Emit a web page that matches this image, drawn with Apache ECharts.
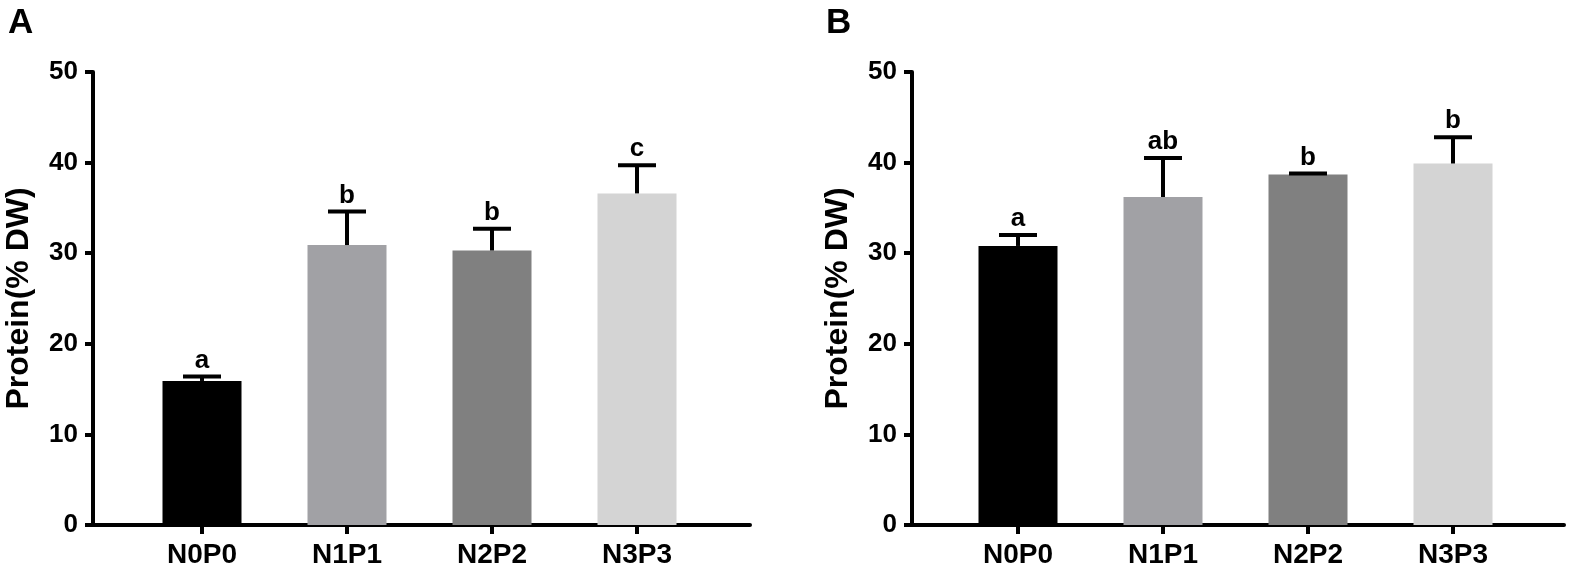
<!DOCTYPE html>
<html>
<head>
<meta charset="utf-8">
<title>Protein (% DW)</title>
<script src="https://cdn.jsdelivr.net/npm/echarts@6.0.0/dist/echarts.min.js"></script>
<style>
  html, body { margin: 0; padding: 0; background: #fff; }
  #main { width: 1569px; height: 573px; }
</style>
</head>
<body>
<div id="main"></div>
<script>
// treatments on the x axis
const categories = ['N0P0', 'N1P1', 'N2P2', 'N3P3'];
const barColors = ['#000000', '#a1a1a5', '#808080', '#d4d4d4'];

// panel A: mean and mean + SD, significance letters
const meanA = [15.9, 30.9, 30.3, 36.6];
const upperA = [16.4, 34.6, 32.7, 39.7];
const lettersA = ['a', 'b', 'b', 'c'];

// panel B
const meanB = [30.8, 36.2, 38.7, 39.9];
const upperB = [32.0, 40.5, 38.8, 42.8];
const lettersB = ['a', 'ab', 'b', 'b'];

const yMin = 0, yMax = 50, yStep = 10;

const font = 'Liberation Sans, Arial, sans-serif';
const chart = echarts.init(document.getElementById('main'), null, {renderer: 'canvas'});

// frame grid draws the long x line and the labelled y axis
function frameX(gridIndex) {
    return {
        type: 'value', gridIndex, min: 0, max: 1,
        axisLine: {show: true, lineStyle: {color: '#000', width: 4}},
        axisTick: {show: false}, axisLabel: {show: false}, splitLine: {show: false}
    };
}
function frameY(gridIndex) {
    return {
        type: 'value', gridIndex, min: yMin, max: yMax, interval: yStep,
        name: 'Protein(% DW)', nameLocation: 'middle', nameGap: 58,
        nameTextStyle: {fontFamily: font, fontWeight: 'bold', fontSize: 32, color: '#000'},
        axisLine: {show: true, lineStyle: {color: '#000', width: 4}},
        axisTick: {show: true, length: 8, lineStyle: {color: '#000', width: 4}},
        axisLabel: {margin: 15, fontFamily: font, fontWeight: 'bold', fontSize: 26, color: '#000'},
        splitLine: {show: false}
    };
}
// bar grid holds the category scale
function barX(gridIndex) {
    return {
        type: 'category', gridIndex, data: categories,
        axisLine: {show: false},
        axisTick: {show: true, alignWithLabel: true, length: 9, lineStyle: {color: '#000', width: 4}},
        axisLabel: {margin: 16, fontFamily: font, fontWeight: 'bold', fontSize: 28, color: '#000'}
    };
}
function barY(gridIndex) {
    return {type: 'value', gridIndex, min: yMin, max: yMax, show: false, splitLine: {show: false}};
}

function barSeries(idx, means) {
    return {
        type: 'bar', xAxisIndex: idx, yAxisIndex: idx, barWidth: 79,
        data: means.map((v, i) => ({value: v, itemStyle: {color: barColors[i]}}))
    };
}

function errSeries(idx, means, uppers, letters) {
    return {
        type: 'custom', xAxisIndex: idx, yAxisIndex: idx, z: 5,
        data: means.map((v, i) => [i, v, uppers[i]]),
        renderItem(params, api) {
            const low = api.coord([api.value(0), api.value(1)]);
            const high = api.coord([api.value(0), api.value(2)]);
            const half = 19;
            return {
                type: 'group',
                children: [
                    {type: 'line', shape: {x1: low[0], y1: low[1], x2: high[0], y2: high[1]},
                        style: {stroke: '#000', lineWidth: 4}},
                    {type: 'line', shape: {x1: high[0] - half, y1: high[1], x2: high[0] + half, y2: high[1]},
                        style: {stroke: '#000', lineWidth: 4}},
                    {type: 'text', x: high[0], y: high[1] - 3,
                        style: {text: letters[params.dataIndex], fill: '#000', align: 'center',
                            verticalAlign: 'bottom', font: 'bold 26px ' + font}}
                ]
            };
        }
    };
}

const option = {
    animation: false,
    title: [
        {text: 'A', left: 3, top: 1, textStyle: {fontFamily: font, fontWeight: 'bold', fontSize: 35, color: '#000'}},
        {text: 'B', left: 821, top: 1, textStyle: {fontFamily: font, fontWeight: 'bold', fontSize: 35, color: '#000'}}
    ],
    grid: [
        {left: 93, top: 72, width: 657, height: 453},
        {left: 129.5, top: 72, width: 580, height: 453},
        {left: 912, top: 72, width: 652, height: 453},
        {left: 945.5, top: 72, width: 580, height: 453}
    ],
    xAxis: [frameX(0), barX(1), frameX(2), barX(3)],
    yAxis: [frameY(0), barY(1), frameY(2), barY(3)],
    series: [
        barSeries(1, meanA),
        errSeries(1, meanA, upperA, lettersA),
        barSeries(3, meanB),
        errSeries(3, meanB, upperB, lettersB)
    ]
};
chart.setOption(option);
</script>
</body>
</html>
